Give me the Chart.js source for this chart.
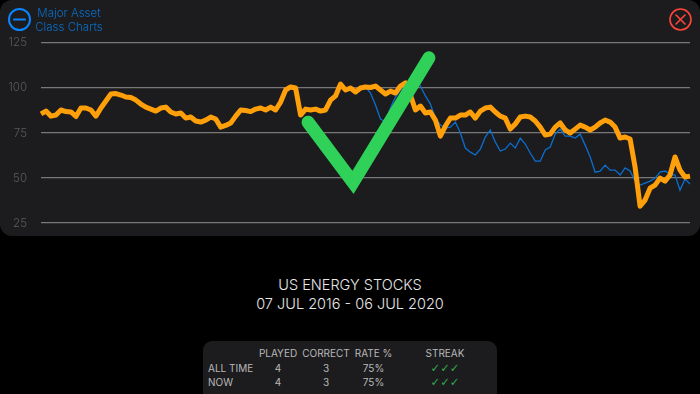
<!DOCTYPE html>
<html>
<head>
<meta charset="utf-8">
<title>US Energy Stocks</title>
<script src="https://cdn.jsdelivr.net/npm/chart.js@4"></script>
<style>
    html, body { margin: 0; padding: 0; width: 700px; height: 394px; background: #000; overflow: hidden; font-family: Inter, sans-serif; }
    #panel { position: absolute; left: 0; top: 0; width: 700px; height: 236px; background: #1c1c1e; border-radius: 12px; }
    #chartBox { position: absolute; left: 0; top: 0; width: 700px; height: 244px; }
    #back { position: absolute; left: 8px; top: 8px; }
    #close { position: absolute; left: 669px; top: 8px; }
    #menuText { position: absolute; left: 29px; top: 7px; width: 80px; text-align: center; color: #0a6fc9; font-size: 11.5px; line-height: 13.5px; font-weight: 300; }
    #title { position: absolute; left: 0; top: 276px; width: 700px; text-align: center; color: #e8e8e8; font-size: 14.5px; line-height: 18.5px; font-weight: 300; }
    #scores { position: absolute; left: 203px; top: 341px; width: 294px; height: 53px; background: #1c1c1e; border-radius: 9px 9px 0 0; }
    #scores span { position: absolute; color: #b8b8b8; font-size: 10px; line-height: 12px; width: 70px; text-align: center; }
    #scores span.rowName { width: 60px; text-align: left; left: 5px; }
    #scores span.tick { color: #30a84e; font-family: "DejaVu Sans", sans-serif; font-size: 11.5px; letter-spacing: 0; }
</style>
</head>
<body>

<div id="panel"></div>
<div id="chartBox"><canvas id="linechart"></canvas></div>

<svg id="back" width="23" height="23">
    <circle cx="11.5" cy="11.5" r="10.5" fill="none" stroke="#0a84ff" stroke-width="2"></circle>
    <line x1="6" y1="11.5" x2="17" y2="11.5" stroke="#0a84ff" stroke-width="2" stroke-linecap="round"></line>
</svg>
<div id="menuText">Major Asset<br>Class Charts</div>

<svg id="close" width="23" height="23">
    <circle cx="11.5" cy="11.5" r="10.5" fill="none" stroke="#ff453a" stroke-width="1.6"></circle>
    <line x1="7" y1="7" x2="16" y2="16" stroke="#ff453a" stroke-width="1.6" stroke-linecap="round"></line>
    <line x1="16" y1="7" x2="7" y2="16" stroke="#ff453a" stroke-width="1.6" stroke-linecap="round"></line>
</svg>

<div id="title">US ENERGY STOCKS<br>07 JUL 2016 - 06 JUL 2020</div>

<div id="scores"></div>

<script>
    var yTicks = [25, 50, 75, 100, 125];

    var orangeValues = [
        85.6, 87.2, 84.4, 85, 87.8, 86.9, 86.7, 84.2, 88.9, 88.9,
        87.8, 84.4, 88.9, 92.8, 96.7, 96.9, 96.1, 95, 94.7, 93.3,
        91.1, 89.4, 88.3, 87.2, 88.9, 89.4, 86.7, 85.6, 86.1, 83.3,
        83.9, 81.7, 81.1, 82.2, 83.9, 82.8, 78.3, 79.2, 80.6, 84.4,
        87.8, 87.5, 86.9, 88.3, 88.9, 87.8, 89.4, 87.8, 92.2, 98.9,
        100.6, 100, 85, 88.3, 87.8, 88.3, 87.2, 87.8, 93.3, 95.6,
        102.2, 98.9, 100, 97.8, 100, 100.6, 100.3, 101.1, 98.9, 96.7,
        98.3, 97.2, 101.1, 102.8, 96.1, 87.8, 90, 86.1, 86.7, 82.2,
        73.3, 78.9, 83.3, 83.3, 85, 85, 86.7, 83.3, 87.2, 88.9,
        89.4, 86.7, 84.4, 83.3, 77.2, 80, 83.9, 84.4, 83.9, 81.7,
        78.3, 73.9, 74.4, 78.3, 80.6, 76.7, 75, 77.2, 79.4, 78.3,
        76.7, 78.3, 80.6, 82.2, 81.1, 78.3, 72.2, 72.8, 71.7, 56.1,
        34.4, 37.8, 44.4, 46.1, 50, 48.3, 51.7, 61.7, 54.4, 50.6,
        51.1
    ];

    // blue line sits under the orange one until the game starts
    var blueValues = [
        100.6, 97.2, 90.6, 82.8, 81.1, 88.9, 95, 98.9, 101.7, 103.3,
        104.4, 101.1, 95.6, 91.1, 83.3, 79.4, 77.8, 78.3, 81.1, 75,
        66.7, 64.4, 62.8, 66.1, 72.8, 76.7, 70, 65, 66.1, 69.4,
        66.7, 72.2, 68.9, 63.9, 59.4, 59.4, 65.6, 67.2, 74.4, 77.2,
        73.3, 73.3, 72.2, 74.4, 68.3, 61.7, 53.3, 53.9, 57.2, 54.4,
        54.4, 51.7, 55.6, 53.9, 48.3, 46.1, 47.2, 48.3, 50, 53.3,
        53.9, 52.2, 51.7, 43.3, 49.4, 46.7
    ];

    var checkWeeks = [53.5, 62.5, 77.7];
    var checkValues = [81, 47.6, 116.8];

    var scoreHeaders = ['PLAYED', 'CORRECT', 'RATE %', 'STREAK'];
    var scoreRows = ['ALL TIME', 'NOW'];
    var scorePlayed = ['4', '4'];
    var scoreCorrect = ['3', '3'];
    var scoreRate = ['75%', '75%'];
    var scoreStreak = ['✓✓✓', '✓✓✓'];

    var weeks = orangeValues.map(function(v, i) { return i; });
    var blueLine = new Array(orangeValues.length - blueValues.length).fill(null).concat(blueValues);
    var checkPoints = checkWeeks.map(function(w, i) { return { x: w, y: checkValues[i] }; });

    function addScoreCell(text, left, top, cls) {
        var el = document.createElement('span');
        el.textContent = text;
        el.style.top = top + 'px';
        if (left !== null) {
            el.style.left = left + 'px';
        }
        if (cls) {
            el.className = cls;
        }
        document.getElementById('scores').appendChild(el);
    }

    var columnLefts = [40, 88, 135.5, 207];
    var rowTops = [21, 35];

    scoreHeaders.forEach(function(h, i) {
        addScoreCell(h, columnLefts[i], 6);
    });
    scoreRows.forEach(function(r, i) {
        addScoreCell(r, null, rowTops[i], 'rowName');
        addScoreCell(scorePlayed[i], columnLefts[0], rowTops[i]);
        addScoreCell(scoreCorrect[i], columnLefts[1], rowTops[i]);
        addScoreCell(scoreRate[i], columnLefts[2], rowTops[i]);
        addScoreCell(scoreStreak[i], columnLefts[3], rowTops[i], 'tick');
    });

    var chart = new Chart(document.getElementById('linechart'), {
        type: 'line',
        data: {
            labels: weeks,
            datasets: [
                {
                    data: checkPoints,
                    type: 'scatter',
                    xAxisID: 'xCheck',
                    showLine: true,
                    borderColor: '#30d158',
                    borderWidth: 13,
                    borderCapStyle: 'round',
                    borderJoinStyle: 'miter',
                    pointRadius: 0,
                    order: 1
                },
                {
                    data: orangeValues,
                    borderColor: '#ff9f0a',
                    borderWidth: 5,
                    borderJoinStyle: 'round',
                    pointRadius: 0,
                    tension: 0,
                    order: 2
                },
                {
                    data: blueLine,
                    borderColor: '#0a6fd0',
                    borderWidth: 1.3,
                    pointRadius: 0,
                    tension: 0,
                    order: 3
                }
            ]
        },
        options: {
            responsive: true,
            maintainAspectRatio: false,
            animation: false,
            layout: { padding: { top: 43, bottom: 5, right: 10, left: 0 } },
            plugins: { legend: { display: false }, tooltip: { enabled: false } },
            scales: {
                x: { display: false },
                xCheck: { type: 'linear', display: false, min: 0, max: 130 },
                y: {
                    min: 25,
                    max: 125,
                    afterBuildTicks: function(axis) {
                        axis.ticks = yTicks.map(function(v) { return { value: v }; });
                    },
                    afterFit: function(axis) {
                        axis.width = 41;
                    },
                    border: { display: false },
                    grid: { color: '#78787a', lineWidth: 1.3, drawTicks: false },
                    ticks: {
                        color: '#5c5c5e',
                        padding: 14,
                        font: { family: 'Inter', size: 11.5, weight: 300 }
                    }
                }
            }
        }
    });
</script>
</body>
</html>
